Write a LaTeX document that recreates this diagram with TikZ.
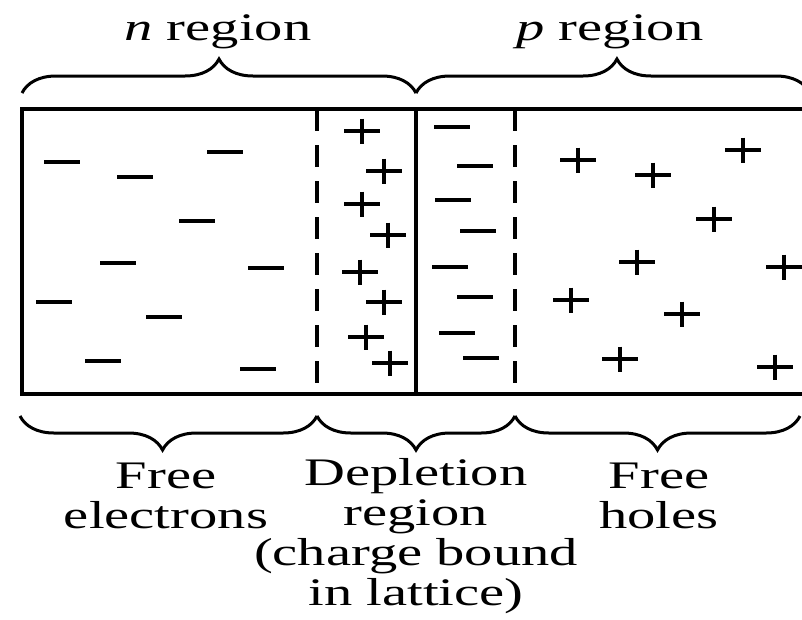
\documentclass[tikz,border=0pt]{standalone}
\usepackage{fontspec}
\setmainfont{Liberation Serif}
\usetikzlibrary{decorations.pathreplacing}
\newcommand\sx[1]{\scalebox{1.45}[1]{#1}}
\begin{document}
\begin{tikzpicture}[x=1pt,y=-1pt,
  frame/.style={line width=4pt},
  dashline/.style={line width=3.5pt, dash pattern=on 22pt off 14pt},
  chg/.style={line width=3.5pt},
  bracestyle/.style={line width=3pt, decorate, decoration={brace, amplitude=34pt, #1}},
  bracestyle/.default={},
  lbl/.style={font=\fontsize{39}{40}\selectfont, inner sep=0pt, align=center},
  pics/negch/.style={code={\draw[chg] (-18,0)--(18,0);}},
  pics/posch/.style={code={\draw[chg] (-18,0)--(18,0) (0,-12.5)--(0,12.5);}}
]
\useasboundingbox (0,0) rectangle (802,619);

% crystal bar
\draw[frame] (812,109) -- (22,109) -- (22,394) -- (812,394);
\draw[frame] (416,109) -- (416,394);
\draw[dashline] (317,109) -- (317,394);
\draw[dashline] (515,109) -- (515,394);

% free electrons (n side)
\foreach \x/\y in {62/162,135/177,225/152,197/221,118/263,266/268,54/302,164/317,103/361,258/369}
  \pic at (\x,\y) {negch};
% bound positive charges (depletion, n side)
\foreach \x/\y in {362/131,384/171,362/204,388/235,360/272,384/302,366/337,390/363}
  \pic at (\x,\y) {posch};
% bound negative charges (depletion, p side)
\foreach \x/\y in {452/127,475/166,453/200,478/231,450/267,475/297,457/333,481/358}
  \pic at (\x,\y) {negch};
% free holes (p side)
\foreach \x/\y in {578/160,653/175,743/150,714/219,637/262,784/267,571/300,682/314,620/359,775/367}
  \pic at (\x,\y) {posch};

% top braces
\draw[bracestyle] (22,93) -- (416,93);
\draw[bracestyle={aspect=0.51}] (416,93) -- (810,93);
\node[lbl, anchor=base] (nreg) at (218,40) {\sx{\textit{n} region}};
\node[lbl, anchor=base] (preg) at (610,40) {\sx{\textit{p} region}};

% bottom braces
\draw[bracestyle={mirror, aspect=0.48}] (20,416) -- (317,416);
\draw[bracestyle={mirror}] (317,416) -- (515,416);
\draw[bracestyle={mirror, aspect=0.5}] (515,416) -- (800,416);

% labels (base anchor = baseline of the last line)
\node[lbl, anchor=base] (fe) at (166,528) {\sx{Free}\\\sx{electrons}};
\node[lbl, anchor=base] (dep) at (416,605) {\sx{Depletion}\\\sx{region}\\\sx{(charge bound}\\\sx{in lattice)}};
\node[lbl, anchor=base] (fh) at (659,528) {\sx{Free}\\\sx{holes}};
\end{tikzpicture}
\end{document}
